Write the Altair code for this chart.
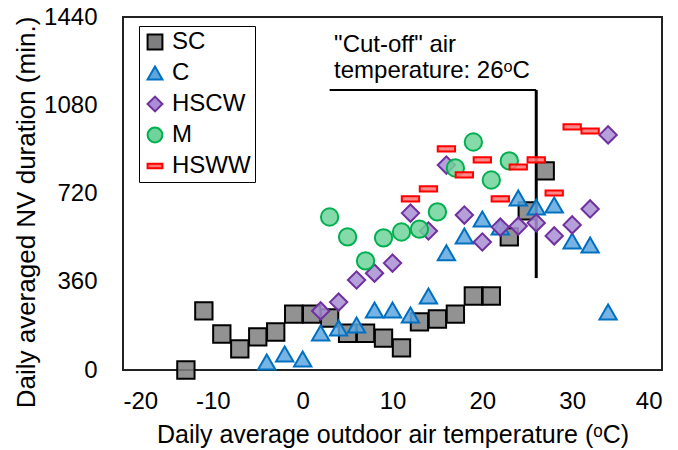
import altair as alt
import pandas as pd

series = ["SC", "C", "HSCW", "M", "HSWW"]

sc_t = [-13, -11, -9, -7, -5, -3, -1, 1, 3, 5, 7, 9, 11, 13, 15, 17, 19, 21, 23, 25, 27]
sc_v = [0, 241, 147, 86, 135, 155, 228, 228, 212, 150, 150, 130, 90, 196, 208, 228, 302, 302, 543, 649, 812]

c_t = [-4, -2, 0, 2, 4, 6, 8, 10, 12, 14, 16, 18, 20, 22, 24, 26, 28, 30, 32, 34]
c_v = [33, 65, 45, 151, 171, 184, 245, 245, 224, 302, 478, 547, 616, 583, 702, 665, 673, 526, 510, 237]

hscw_t = [2, 4, 6, 8, 10, 12, 14, 16, 18, 20, 22, 24, 26, 28, 30, 32, 34]
hscw_v = [241, 277, 367, 395, 436, 640, 567, 836, 632, 522, 583, 587, 600, 547, 592, 657, 959]

m_t = [3, 5, 7, 9, 11, 13, 15, 17, 19, 21, 23]
m_v = [624, 543, 445, 539, 563, 575, 645, 824, 930, 775, 853]

hsww_t = [12, 14, 16, 18, 20, 22, 24, 26, 28, 30, 32]
hsww_v = [698, 739, 902, 796, 857, 698, 828, 857, 722, 992, 975]

x_ticks = [-20, -10, 0, 10, 20, 30, 40]
y_ticks = [0, 360, 720, 1080, 1440]

cutoff_t = 26
cutoff_top = 1142
cutoff_bottom = 375
cutoff_start = 3
note_lines = ['"Cut-off" air', "temperature: 26\u1d52C"]
note_x = 3.5
note_y = [1297, 1191]

FONT = "Liberation Sans"

rows = []
for name, ts, vs in [("SC", sc_t, sc_v), ("C", c_t, c_v), ("HSCW", hscw_t, hscw_v),
                     ("M", m_t, m_v), ("HSWW", hsww_t, hsww_v)]:
    for t, v in zip(ts, vs):
        rows.append({"series": name, "T": t, "V": v})
df = pd.DataFrame(rows)

shapes = ["square", "triangle-up", "diamond", "circle", "M-1,-0.3H1V0.3H-1Z"]
fills = ["#7f7f7f", "#5fa6de", "#a98fd2", "#6fd39a", "#ff7373"]
strokes = ["#000000", "#0070c0", "#7030a0", "#00b050", "#ff0000"]

xscale = alt.Scale(domain=[-20, 40], nice=False)
yscale = alt.Scale(domain=[0, 1440], nice=False)

leg = alt.Legend(
    title=None, orient="none", legendX=16, legendY=9,
    strokeColor="black", fillColor="white", padding=4,
    labelFontSize=24, labelFont=FONT, labelColor="black",
    symbolSize=220, symbolStrokeWidth=2, rowPadding=7, labelOffset=5,
)

points = alt.Chart(df).mark_point(size=300, fillOpacity=0.85, strokeWidth=2).encode(
    x=alt.X("T:Q", scale=xscale,
            axis=alt.Axis(values=x_ticks, title="Daily average outdoor air temperature (\u1d52C)",
                          labelExpr="'' + datum.value", titleFontSize=25,
                          labelPadding=19, titlePadding=9)),
    y=alt.Y("V:Q", scale=yscale,
            axis=alt.Axis(values=y_ticks, title="Daily averaged NV duration (min.)",
                          labelExpr="'' + datum.value", titleFontSize=26,
                          labelPadding=26, titlePadding=4, titleY=195)),
    shape=alt.Shape("series:N", scale=alt.Scale(domain=series, range=shapes), legend=leg),
    fill=alt.Fill("series:N", scale=alt.Scale(domain=series, range=fills), legend=leg),
    stroke=alt.Stroke("series:N", scale=alt.Scale(domain=series, range=strokes), legend=leg),
)

hline_df = pd.DataFrame({"x": [cutoff_start], "x2": [cutoff_t], "y": [cutoff_top]})
hline = alt.Chart(hline_df).mark_rule(color="black", strokeWidth=2).encode(
    x=alt.X("x:Q", scale=xscale), x2="x2:Q", y=alt.Y("y:Q", scale=yscale))

vline_df = pd.DataFrame({"x": [cutoff_t], "y": [cutoff_top], "y2": [cutoff_bottom]})
vline = alt.Chart(vline_df).mark_rule(color="black", strokeWidth=3).encode(
    x=alt.X("x:Q", scale=xscale), y=alt.Y("y:Q", scale=yscale), y2="y2:Q")

note_df = pd.DataFrame({"x": [note_x, note_x], "y": note_y, "t": note_lines})
note = alt.Chart(note_df).mark_text(align="left", baseline="alphabetic", fontSize=24,
                                    font=FONT, color="black").encode(
    x=alt.X("x:Q", scale=xscale), y=alt.Y("y:Q", scale=yscale), text="t:N")

chart = alt.layer(hline, vline, points, note).properties(
    width=539, height=353,
    autosize=alt.AutoSizeParams(type="none"),
    padding={"left": 123, "top": 17, "right": 16, "bottom": 80},
).configure_view(
    stroke="#222222", strokeWidth=2
).configure_axis(
    domain=False, ticks=False, grid=False,
    labelFont=FONT, titleFont=FONT, labelFontSize=24,
    labelColor="black", titleColor="black", titleFontWeight="normal",
)

chart.save("out.html", embed_options={"renderer": "svg", "actions": False})
